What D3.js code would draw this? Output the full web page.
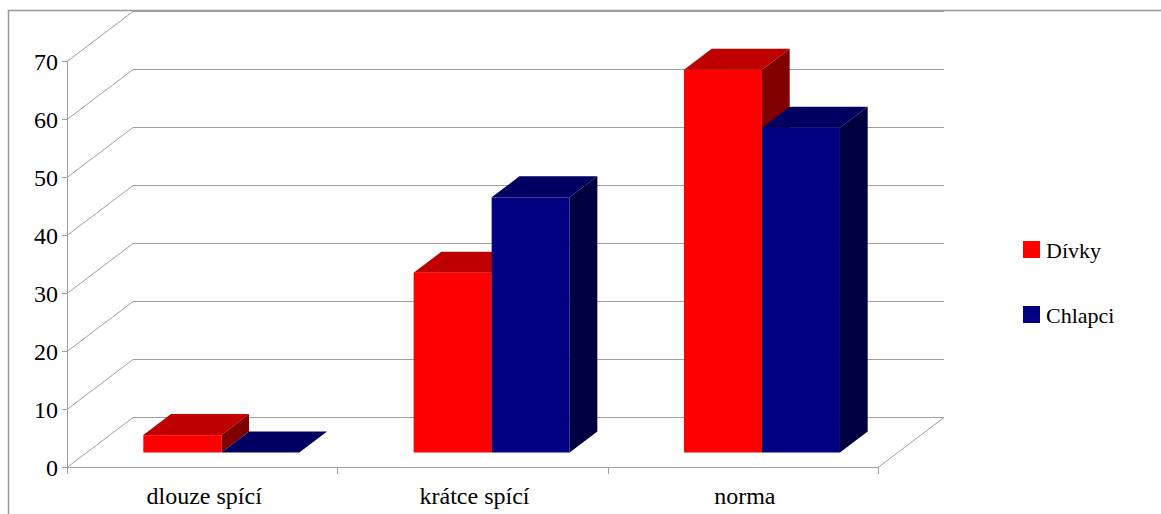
<!DOCTYPE html>
<html>
<head>
<meta charset="utf-8">
<script src="https://cdn.jsdelivr.net/npm/d3@7"></script>
</head>
<body style="margin:0;padding:0;background:#fff;font-family:'Liberation Serif',serif">
<svg id="chart" width="1161" height="514" style="display:block" font-family="Liberation Serif, Tinos, Times New Roman, serif"></svg>
<script>
// Sleep groups and counts per group
const categories = ["dlouze spící", "krátce spící", "norma"];
const seriesNames = ["Dívky", "Chlapci"];
const divky = [3, 31, 66];
const chlapci = [0, 44, 56];
const yTicks = [0, 10, 20, 30, 40, 50, 60, 70];

// Face colours per series: front, top, side
const frontColors = ["#ff0000", "#000080"];
const topColors = ["#be0000", "#000060"];
const sideColors = ["#800000", "#000040"];

(function () {
const W = 1161, H = 514;
const svg = d3.select("#chart");
const serif = d => `"Liberation Serif"`;

// Plot frame (front plane) and 3D depth vector
const plotLeft = 67, plotRight = 878, plotBottom = 467, plotTop = 61;
const depthX = 66, depthY = -50;
const barDepthStart = 0.29, barDepthEnd = 0.71;

const y = d3.scaleLinear().domain([0, 70]).range([plotBottom, plotTop]);
const x = d3.scaleBand().domain(categories).range([plotLeft, plotRight])
  .paddingInner(0.423).paddingOuter(0.2115);
const xs = d3.scaleBand().domain(seriesNames).range([0, x.bandwidth()]);

const grid = "#a0a0a0";

// outer frame
svg.append("rect")
  .attr("x", 8.5).attr("y", 10.5).attr("width", W).attr("height", H)
  .attr("fill", "none").attr("stroke", "#999").attr("stroke-width", 1.5);

const g = svg.append("g");

// back wall gridlines
g.selectAll("line.back").data(yTicks).join("line")
  .attr("x1", plotLeft + depthX).attr("x2", plotRight + depthX)
  .attr("y1", d => Math.round(y(d) + depthY) + 0.5)
  .attr("y2", d => Math.round(y(d) + depthY) + 0.5)
  .attr("stroke", grid);

// side wall diagonals
g.selectAll("line.side").data(yTicks).join("line")
  .attr("x1", plotLeft).attr("y1", d => y(d) + 0.5)
  .attr("x2", plotLeft + depthX).attr("y2", d => y(d) + depthY + 0.5)
  .attr("stroke", grid);

// floor front edge and right diagonal
g.append("line").attr("x1", plotLeft).attr("x2", plotRight)
  .attr("y1", plotBottom + 0.5).attr("y2", plotBottom + 0.5).attr("stroke", grid);
g.append("line").attr("x1", plotRight).attr("y1", plotBottom + 0.5)
  .attr("x2", plotRight + depthX).attr("y2", plotBottom + depthY + 0.5).attr("stroke", grid);

// value axis
g.append("line").attr("x1", plotLeft + 0.5).attr("x2", plotLeft + 0.5)
  .attr("y1", y(70)).attr("y2", plotBottom + 0.5).attr("stroke", grid);
g.selectAll("line.ytick").data(yTicks).join("line")
  .attr("x1", plotLeft - 5).attr("x2", plotLeft)
  .attr("y1", d => y(d) + 0.5).attr("y2", d => y(d) + 0.5)
  .attr("stroke", grid);
g.selectAll("text.ylab").data(yTicks).join("text")
  .attr("x", plotLeft - 9).attr("y", d => y(d) + 9)
  .attr("text-anchor", "end")
  .style("font-family", serif).style("font-size", "24px")
  .text(d => String(d));

// category axis ticks and labels
const catEdges = categories.map(c => x(c) - x.step() * x.paddingInner() / 2).concat([plotRight]);
g.selectAll("line.xtick").data(catEdges).join("line")
  .attr("x1", d => Math.round(d) + 0.5).attr("x2", d => Math.round(d) + 0.5)
  .attr("y1", plotBottom).attr("y2", plotBottom + 7)
  .attr("stroke", grid);
g.selectAll("text.xlab").data(categories).join("text")
  .attr("x", d => x(d) + x.bandwidth() / 2 + 2)
  .attr("y", 504)
  .attr("text-anchor", "middle")
  .style("font-family", serif).style("font-size", "24px")
  .text(d => d);

// bars
const ox = depthX * barDepthStart, oy = depthY * barDepthStart;
const dx = depthX * (barDepthEnd - barDepthStart), dy = depthY * (barDepthEnd - barDepthStart);
const bars = [];
categories.forEach((c, i) => {
  [divky, chlapci].forEach((vals, j) => {
    bars.push({ cat: c, s: j, v: vals[i] });
  });
});
const bg = svg.append("g");
bars.forEach(b => {
  const x0 = x(b.cat) + xs(seriesNames[b.s]) + ox;
  const w = xs.bandwidth();
  const base = y(0) + oy;
  const t = y(b.v) + oy;
  const grp = bg.append("g");
  // side face
  grp.append("path")
    .attr("d", `M${x0 + w},${t}L${x0 + w + dx},${t + dy}L${x0 + w + dx},${base + dy}L${x0 + w},${base}Z`)
    .attr("fill", sideColors[b.s]);
  // front face
  grp.append("rect")
    .attr("x", x0).attr("y", t).attr("width", w).attr("height", base - t)
    .attr("fill", frontColors[b.s]);
  // top face
  grp.append("path")
    .attr("d", `M${x0},${t}L${x0 + dx},${t + dy}L${x0 + w + dx},${t + dy}L${x0 + w},${t}Z`)
    .attr("fill", topColors[b.s]);
});

// legend
const legend = svg.append("g");
legend.selectAll("rect").data(seriesNames).join("rect")
  .attr("x", 1023).attr("y", (d, j) => 241 + j * 65)
  .attr("width", 17).attr("height", 17)
  .attr("fill", (d, j) => frontColors[j]);
legend.selectAll("text").data(seriesNames).join("text")
  .attr("x", 1046).attr("y", (d, j) => 258 + j * 65)
  .style("font-family", serif).style("font-size", "22px")
  .text(d => d);
})();
</script>
</body>
</html>
